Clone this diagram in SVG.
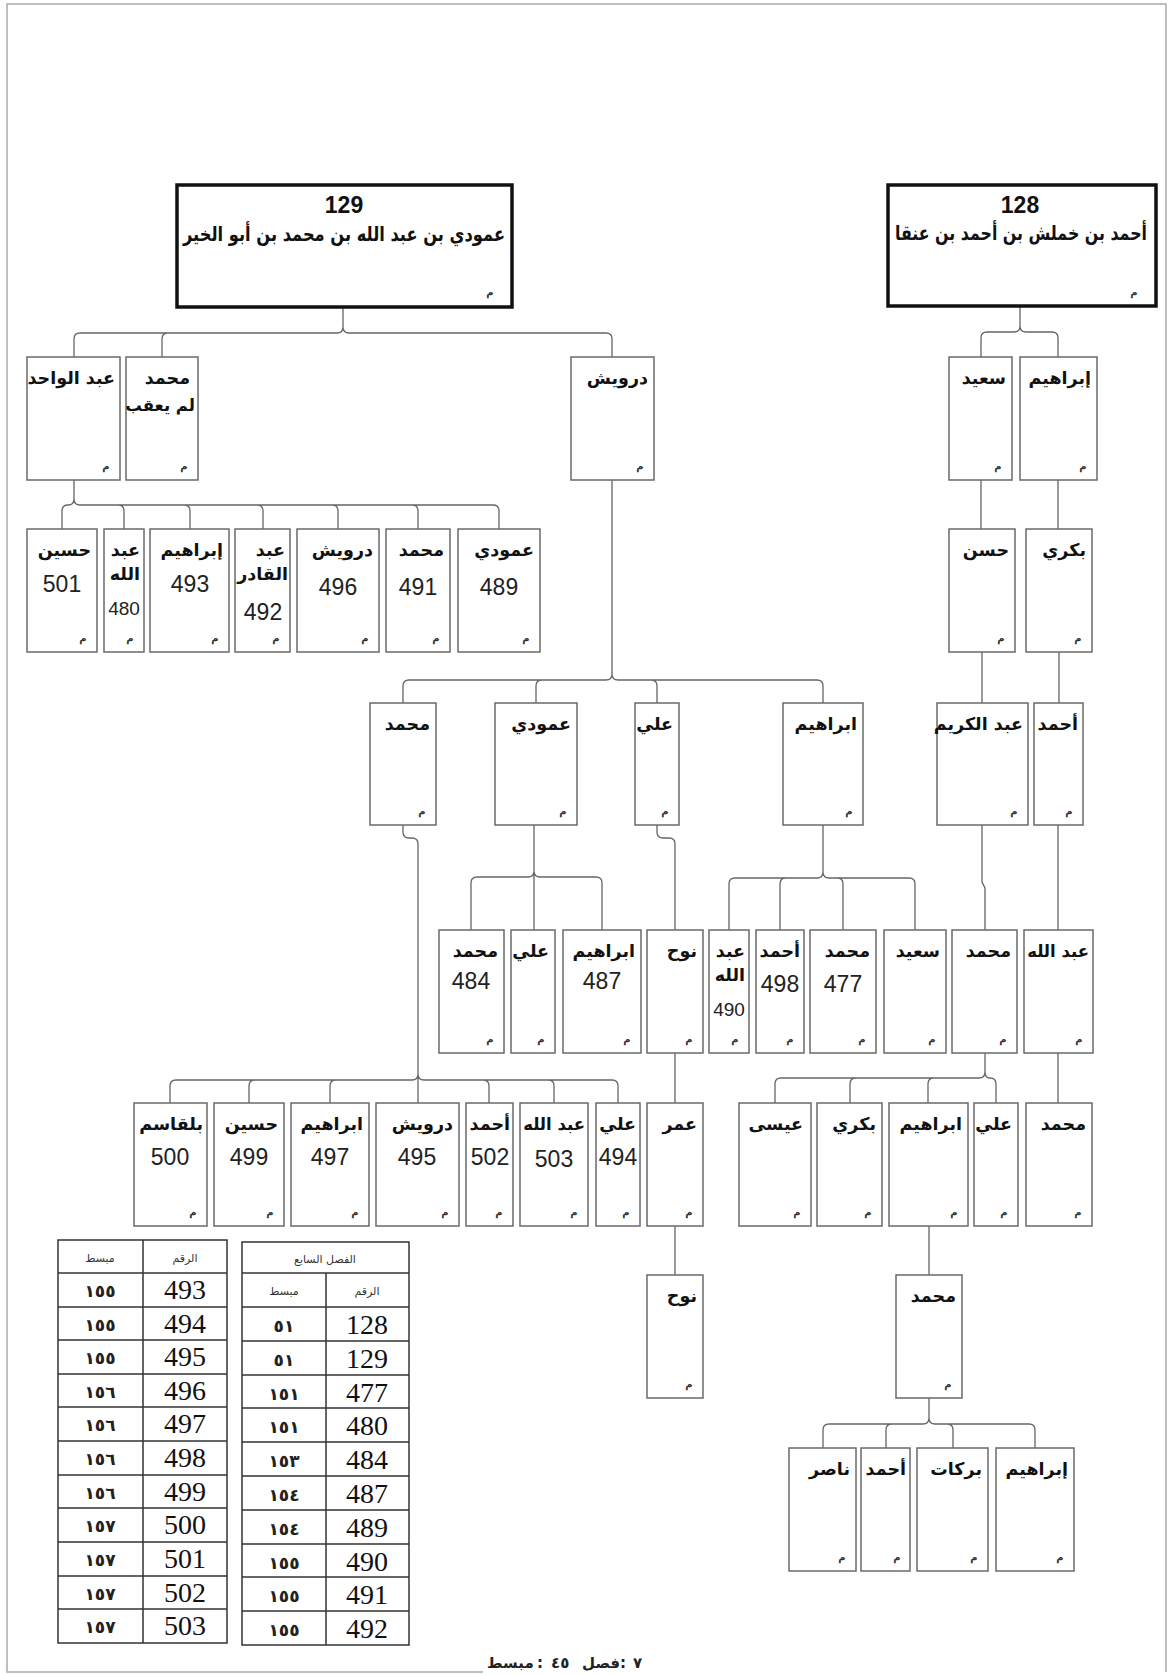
<svg xmlns="http://www.w3.org/2000/svg" width="1169" height="1675" viewBox="0 0 1169 1675">
<style>
.box{fill:#fff;stroke:#6a6a6a;stroke-width:1.5}
.top{fill:#fff;stroke:#111;stroke-width:3.5}
.nm{font-family:"DejaVu Sans",sans-serif;font-weight:bold;font-size:17.5px;text-anchor:end;fill:#111}
.nms{font-family:"DejaVu Sans",sans-serif;font-weight:bold;font-size:16.5px;text-anchor:end;fill:#111}
.tn{font-family:"DejaVu Sans",sans-serif;font-weight:bold;font-size:20px;text-anchor:middle;fill:#111}
.tnum{font-family:"Liberation Sans",Arial,sans-serif;font-weight:bold;font-size:23px;text-anchor:middle;fill:#111}
.num{font-family:"Liberation Sans",Arial,sans-serif;font-size:23px;text-anchor:middle;fill:#222}
.sn{font-family:"Liberation Sans",Arial,sans-serif;font-size:19px;text-anchor:middle;fill:#222}
.m{font-family:"DejaVu Sans",sans-serif;font-weight:bold;font-size:10px;text-anchor:middle;fill:#333}
.con{fill:none;stroke:#666;stroke-width:1.3}
.frame{fill:none;stroke:#aaa;stroke-width:1.5}
.tb{fill:none;stroke:#333;stroke-width:1.5}
.tnr{font-family:"Liberation Serif","Times New Roman",serif;font-size:28px;text-anchor:middle;fill:#111}
.ad{font-family:"DejaVu Sans",sans-serif;font-weight:bold;font-size:17px;text-anchor:middle;fill:#222;letter-spacing:2px}
.th{font-family:"DejaVu Sans",sans-serif;font-size:11px;text-anchor:middle;fill:#333}
.ft{font-family:"DejaVu Sans",sans-serif;font-weight:bold;font-size:15px;fill:#222}
</style>
<g id="frame">
<path class="frame" d="M483,1672 H7 V4 H1166 V1672"/>
</g>
<g id="connectors">
<path class="con" d="M74,357 V339 Q74,333 80,333 H337 Q343,333 343,327 V307 M343,327 Q343,333 349,333 H606 Q612,333 612,339 V357 M168,333 Q162,333 162,339 V357"/>
<path class="con" d="M981,357 V338 Q981,332 987,332 H1014 Q1020,332 1020,326 V306 M1020,326 Q1020,332 1026,332 H1052 Q1058,332 1058,338 V357"/>
<path class="con" d="M62,529 V511 Q62,505 68,505 Q74,505 74,499 V480 M74,499 Q74,505 80,505 H493 Q499,505 499,511 V529 M118,505 Q124,505 124,511 V529 M184,505 Q190,505 190,511 V529 M257,505 Q263,505 263,511 V529 M332,505 Q338,505 338,511 V529 M412,505 Q418,505 418,511 V529"/>
<path class="con" d="M403,703 V686 Q403,680 409,680 H606 Q612,680 612,674 V480 M612,674 Q612,680 618,680 H817 Q823,680 823,686 V703 M542,680 Q536,680 536,686 V703 M651,680 Q657,680 657,686 V703"/>
<path class="con" d="M471,930 V883 Q471,877 477,877 H528 Q534,877 534,871 M534,871 Q534,877 540,877 H596 Q602,877 602,883 V930 M534,825 V930"/>
<path class="con" d="M729,930 V884 Q729,878 735,878 H817 Q823,878 823,872 V825 M823,872 Q823,878 829,878 H909 Q915,878 915,884 V930 M786,878 Q780,878 780,884 V930 M837,878 Q843,878 843,884 V930"/>
<path class="con" d="M403,825 V832 Q403,838 409,838 H412 Q418,838 418,844 V1103 M170,1103 V1086 Q170,1080 176,1080 H412 Q418,1080 418,1074 Q418,1080 424,1080 H612 Q618,1080 618,1086 V1103 M255,1080 Q249,1080 249,1086 V1103 M336,1080 Q330,1080 330,1086 V1103 M483,1080 Q489,1080 489,1086 V1103 M548,1080 Q554,1080 554,1086 V1103"/>
<path class="con" d="M775,1103 V1084 Q775,1078 781,1078 H979 Q985,1078 985,1072 V1053 M985,1072 Q985,1078 990,1078 Q996,1078 996,1084 V1103 M856,1078 Q850,1078 850,1084 V1103 M934,1078 Q928,1078 928,1084 V1103"/>
<path class="con" d="M823,1448 V1430 Q823,1424 829,1424 H923 Q929,1424 929,1418 V1398 M929,1418 Q929,1424 935,1424 H1029 Q1035,1424 1035,1430 V1448 M892,1424 Q886,1424 886,1430 V1448 M947,1424 Q953,1424 953,1430 V1448"/>
<path class="con" d="M981,480 V529 M1058,480 V529 M982,652 V703 M1059,652 V703 M982,825 V882 L985,888 V930 M1058,825 V930 M1058,1053 V1103 M657,825 V832 Q657,838 663,838 H669 Q675,838 675,844 V930 M675,1053 V1103 M675,1226 V1275 M929,1226 V1275"/>
</g>
<g id="n129"><rect class="top" x="177" y="185" width="335" height="122"/><text class="tnum" x="344" y="213">129</text><text class="tn" x="344" y="241" textLength="322" lengthAdjust="spacingAndGlyphs">عمودي بن عبد الله بن محمد بن أبو الخير</text><text class="m" x="490" y="296">م</text></g>
<g id="n128"><rect class="top" x="888" y="185" width="268" height="121"/><text class="tnum" x="1020" y="213">128</text><text class="tn" x="1021" y="240" font-size="14.5" textLength="252" lengthAdjust="spacingAndGlyphs">أحمد بن خملش بن أحمد بن عنقا</text><text class="m" x="1134" y="296">م</text></g>
<g id="n-abdulwahid"><rect class="box" x="27" y="357" width="93" height="123"/><text class="nm" x="115" y="384" font-size="17">عبد الواحد</text><text class="m" x="106" y="470">م</text></g>
<g id="n-muhammad1"><rect class="box" x="126" y="357" width="72" height="123"/><text class="nm" x="190" y="384">محمد</text><text class="nms" x="195" y="411">لم يعقب</text><text class="m" x="184" y="470">م</text></g>
<g id="n-darwish"><rect class="box" x="571" y="357" width="83" height="123"/><text class="nm" x="648" y="384">درويش</text><text class="m" x="640" y="470">م</text></g>
<g id="n-saeed"><rect class="box" x="949" y="357" width="63" height="123"/><text class="nm" x="1006" y="384">سعيد</text><text class="m" x="998" y="470">م</text></g>
<g id="n-ibrahim1"><rect class="box" x="1020" y="357" width="77" height="123"/><text class="nm" x="1091" y="384">إبراهيم</text><text class="m" x="1083" y="470">م</text></g>
<g id="n-501"><rect class="box" x="27" y="529" width="70" height="123"/><text class="nm" x="91" y="556">حسين</text><text class="num" x="62" y="592">501</text><text class="m" x="83" y="642">م</text></g>
<g id="n-480"><rect class="box" x="104" y="529" width="40" height="123"/><text class="nm" x="140" y="556">عبد</text><text class="nm" x="140" y="580">الله</text><text class="sn" x="124" y="615">480</text><text class="m" x="130" y="642">م</text></g>
<g id="n-493"><rect class="box" x="150" y="529" width="79" height="123"/><text class="nm" x="223" y="556">إبراهيم</text><text class="num" x="190" y="592">493</text><text class="m" x="215" y="642">م</text></g>
<g id="n-492"><rect class="box" x="235" y="529" width="55" height="123"/><text class="nm" x="285" y="556">عبد</text><text class="nm" x="288" y="580" font-size="16">القادر</text><text class="num" x="263" y="620">492</text><text class="m" x="276" y="642">م</text></g>
<g id="n-496"><rect class="box" x="297" y="529" width="82" height="123"/><text class="nm" x="373" y="556">درويش</text><text class="num" x="338" y="595">496</text><text class="m" x="365" y="642">م</text></g>
<g id="n-491"><rect class="box" x="386" y="529" width="64" height="123"/><text class="nm" x="444" y="556">محمد</text><text class="num" x="418" y="595">491</text><text class="m" x="436" y="642">م</text></g>
<g id="n-489"><rect class="box" x="458" y="529" width="82" height="123"/><text class="nm" x="534" y="556">عمودي</text><text class="num" x="499" y="595">489</text><text class="m" x="526" y="642">م</text></g>
<g id="n-hasan"><rect class="box" x="949" y="529" width="66" height="123"/><text class="nm" x="1009" y="556">حسن</text><text class="m" x="1001" y="642">م</text></g>
<g id="n-bakri"><rect class="box" x="1026" y="529" width="66" height="123"/><text class="nm" x="1086" y="556">بكري</text><text class="m" x="1078" y="642">م</text></g>
<g id="n-muhammad3"><rect class="box" x="370" y="703" width="66" height="122"/><text class="nm" x="430" y="730">محمد</text><text class="m" x="422" y="815">م</text></g>
<g id="n-amoudi3"><rect class="box" x="495" y="703" width="82" height="122"/><text class="nm" x="571" y="730">عمودي</text><text class="m" x="563" y="815">م</text></g>
<g id="n-ali3"><rect class="box" x="635" y="703" width="44" height="122"/><text class="nm" x="673" y="730">علي</text><text class="m" x="665" y="815">م</text></g>
<g id="n-ibrahim3"><rect class="box" x="783" y="703" width="80" height="122"/><text class="nm" x="857" y="730">ابراهيم</text><text class="m" x="849" y="815">م</text></g>
<g id="n-abdalkarim"><rect class="box" x="937" y="703" width="91" height="122"/><text class="nm" x="1023" y="730" font-size="16.5">عبد الكريم</text><text class="m" x="1014" y="815">م</text></g>
<g id="n-ahmad3"><rect class="box" x="1034" y="703" width="49" height="122"/><text class="nm" x="1078" y="730">أحمد</text><text class="m" x="1069" y="815">م</text></g>
<g id="n-484"><rect class="box" x="439" y="930" width="65" height="123"/><text class="nm" x="498" y="957">محمد</text><text class="num" x="471" y="989">484</text><text class="m" x="490" y="1043">م</text></g>
<g id="n-ali4"><rect class="box" x="511" y="930" width="44" height="123"/><text class="nm" x="549" y="957">علي</text><text class="m" x="541" y="1043">م</text></g>
<g id="n-487"><rect class="box" x="563" y="930" width="78" height="123"/><text class="nm" x="635" y="957">ابراهيم</text><text class="num" x="602" y="989">487</text><text class="m" x="627" y="1043">م</text></g>
<g id="n-nuh4"><rect class="box" x="647" y="930" width="56" height="123"/><text class="nm" x="697" y="957">نوح</text><text class="m" x="689" y="1043">م</text></g>
<g id="n-490"><rect class="box" x="709" y="930" width="40" height="123"/><text class="nm" x="745" y="957">عبد</text><text class="nm" x="745" y="981">الله</text><text class="sn" x="729" y="1016">490</text><text class="m" x="735" y="1043">م</text></g>
<g id="n-498"><rect class="box" x="756" y="930" width="48" height="123"/><text class="nm" x="800" y="957">أحمد</text><text class="num" x="780" y="992">498</text><text class="m" x="790" y="1043">م</text></g>
<g id="n-477"><rect class="box" x="810" y="930" width="66" height="123"/><text class="nm" x="870" y="957">محمد</text><text class="num" x="843" y="992">477</text><text class="m" x="862" y="1043">م</text></g>
<g id="n-saeed4"><rect class="box" x="884" y="930" width="62" height="123"/><text class="nm" x="940" y="957">سعيد</text><text class="m" x="932" y="1043">م</text></g>
<g id="n-muhammad4"><rect class="box" x="952" y="930" width="65" height="123"/><text class="nm" x="1011" y="957">محمد</text><text class="m" x="1003" y="1043">م</text></g>
<g id="n-abdallah4"><rect class="box" x="1024" y="930" width="69" height="123"/><text class="nms" x="1089" y="957">عبد الله</text><text class="m" x="1079" y="1043">م</text></g>
<g id="n-500"><rect class="box" x="134" y="1103" width="73" height="123"/><text class="nm" x="203" y="1130">بلقاسم</text><text class="num" x="170" y="1165">500</text><text class="m" x="193" y="1216">م</text></g>
<g id="n-499"><rect class="box" x="214" y="1103" width="70" height="123"/><text class="nm" x="278" y="1130">حسين</text><text class="num" x="249" y="1165">499</text><text class="m" x="270" y="1216">م</text></g>
<g id="n-497"><rect class="box" x="291" y="1103" width="78" height="123"/><text class="nm" x="363" y="1130">ابراهيم</text><text class="num" x="330" y="1165">497</text><text class="m" x="355" y="1216">م</text></g>
<g id="n-495"><rect class="box" x="376" y="1103" width="83" height="123"/><text class="nm" x="453" y="1130">درويش</text><text class="num" x="417" y="1165">495</text><text class="m" x="445" y="1216">م</text></g>
<g id="n-502"><rect class="box" x="466" y="1103" width="47" height="123"/><text class="nm" x="510" y="1130">أحمد</text><text class="num" x="490" y="1165">502</text><text class="m" x="499" y="1216">م</text></g>
<g id="n-503"><rect class="box" x="520" y="1103" width="68" height="123"/><text class="nms" x="585" y="1130">عبد الله</text><text class="num" x="554" y="1167">503</text><text class="m" x="574" y="1216">م</text></g>
<g id="n-494"><rect class="box" x="596" y="1103" width="44" height="123"/><text class="nm" x="636" y="1130">علي</text><text class="num" x="618" y="1165" font-size="21">494</text><text class="m" x="626" y="1216">م</text></g>
<g id="n-omar"><rect class="box" x="647" y="1103" width="56" height="123"/><text class="nm" x="697" y="1130">عمر</text><text class="m" x="689" y="1216">م</text></g>
<g id="n-eisa"><rect class="box" x="739" y="1103" width="72" height="123"/><text class="nm" x="803" y="1130">عيسى</text><text class="m" x="797" y="1216">م</text></g>
<g id="n-bakri5"><rect class="box" x="817" y="1103" width="65" height="123"/><text class="nm" x="876" y="1130">بكري</text><text class="m" x="868" y="1216">م</text></g>
<g id="n-ibrahim5"><rect class="box" x="889" y="1103" width="79" height="123"/><text class="nm" x="962" y="1130">ابراهيم</text><text class="m" x="954" y="1216">م</text></g>
<g id="n-ali5"><rect class="box" x="974" y="1103" width="44" height="123"/><text class="nm" x="1012" y="1130">علي</text><text class="m" x="1004" y="1216">م</text></g>
<g id="n-muhammad5"><rect class="box" x="1026" y="1103" width="66" height="123"/><text class="nm" x="1086" y="1130">محمد</text><text class="m" x="1078" y="1216">م</text></g>
<g id="n-nuh6"><rect class="box" x="647" y="1275" width="56" height="123"/><text class="nm" x="697" y="1302">نوح</text><text class="m" x="689" y="1388">م</text></g>
<g id="n-muhammad6"><rect class="box" x="896" y="1275" width="66" height="123"/><text class="nm" x="956" y="1302">محمد</text><text class="m" x="948" y="1388">م</text></g>
<g id="n-naser"><rect class="box" x="789" y="1448" width="67" height="123"/><text class="nm" x="850" y="1475">ناصر</text><text class="m" x="842" y="1561">م</text></g>
<g id="n-ahmad7"><rect class="box" x="861" y="1448" width="49" height="123"/><text class="nm" x="906" y="1475">أحمد</text><text class="m" x="897" y="1561">م</text></g>
<g id="n-barakat"><rect class="box" x="917" y="1448" width="71" height="123"/><text class="nm" x="982" y="1475">بركات</text><text class="m" x="974" y="1561">م</text></g>
<g id="n-ibrahim7"><rect class="box" x="996" y="1448" width="78" height="123"/><text class="nm" x="1068" y="1475">إبراهيم</text><text class="m" x="1060" y="1561">م</text></g>
<g id="table-left">
<rect class="tb" x="58" y="1240" width="169" height="403"/>
<path class="tb" d="M143,1240 V1643 M58,1273 H227 M58,1307 H227 M58,1340 H227 M58,1374 H227 M58,1407 H227 M58,1441 H227 M58,1475 H227 M58,1508 H227 M58,1542 H227 M58,1576 H227 M58,1609 H227"/>
<text class="th" x="100" y="1262">مبسط</text><text class="th" x="185" y="1262">الرقم</text>
<text class="tnr" x="185" y="1299">493</text><text class="ad" x="100" y="1297">١٥٥</text>
<text class="tnr" x="185" y="1333">494</text><text class="ad" x="100" y="1331">١٥٥</text>
<text class="tnr" x="185" y="1366">495</text><text class="ad" x="100" y="1364">١٥٥</text>
<text class="tnr" x="185" y="1400">496</text><text class="ad" x="100" y="1398">١٥٦</text>
<text class="tnr" x="185" y="1433">497</text><text class="ad" x="100" y="1431">١٥٦</text>
<text class="tnr" x="185" y="1467">498</text><text class="ad" x="100" y="1465">١٥٦</text>
<text class="tnr" x="185" y="1501">499</text><text class="ad" x="100" y="1499">١٥٦</text>
<text class="tnr" x="185" y="1534">500</text><text class="ad" x="100" y="1532">١٥٧</text>
<text class="tnr" x="185" y="1568">501</text><text class="ad" x="100" y="1566">١٥٧</text>
<text class="tnr" x="185" y="1602">502</text><text class="ad" x="100" y="1600">١٥٧</text>
<text class="tnr" x="185" y="1635">503</text><text class="ad" x="100" y="1633">١٥٧</text>
</g>
<g id="table-right">
<rect class="tb" x="242" y="1242" width="167" height="403"/>
<path class="tb" d="M326,1273 V1645 M242,1273 H409 M242,1307 H409 M242,1341 H409 M242,1375 H409 M242,1408 H409 M242,1442 H409 M242,1476 H409 M242,1510 H409 M242,1544 H409 M242,1577 H409 M242,1611 H409"/>
<text class="th" x="325" y="1263">الفصل السابع</text>
<text class="th" x="284" y="1295">مبسط</text><text class="th" x="367" y="1295">الرقم</text>
<text class="tnr" x="367" y="1334">128</text><text class="ad" x="284" y="1332">٥١</text>
<text class="tnr" x="367" y="1368">129</text><text class="ad" x="284" y="1366">٥١</text>
<text class="tnr" x="367" y="1402">477</text><text class="ad" x="284" y="1400">١٥١</text>
<text class="tnr" x="367" y="1435">480</text><text class="ad" x="284" y="1433">١٥١</text>
<text class="tnr" x="367" y="1469">484</text><text class="ad" x="284" y="1467">١٥٣</text>
<text class="tnr" x="367" y="1503">487</text><text class="ad" x="284" y="1501">١٥٤</text>
<text class="tnr" x="367" y="1537">489</text><text class="ad" x="284" y="1535">١٥٤</text>
<text class="tnr" x="367" y="1571">490</text><text class="ad" x="284" y="1569">١٥٥</text>
<text class="tnr" x="367" y="1604">491</text><text class="ad" x="284" y="1602">١٥٥</text>
<text class="tnr" x="367" y="1638">492</text><text class="ad" x="284" y="1636">١٥٥</text>
</g>
<g id="footer">
<text class="ft" x="487" y="1668">مبسط</text>
<text class="ft" x="537" y="1668">:</text>
<text class="ft" x="551" y="1668">٤٥</text>
<text class="ft" x="582" y="1668">فصل</text>
<text class="ft" x="620" y="1668">:</text>
<text class="ft" x="633" y="1668">٧</text>
</g>
</svg>
